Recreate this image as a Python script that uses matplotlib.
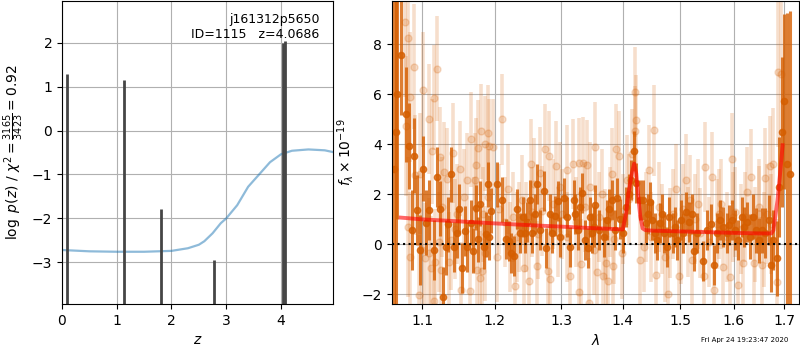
import matplotlib
matplotlib.use('Agg')
import numpy as np
import matplotlib.pyplot as plt
from matplotlib.ticker import NullLocator

# --- p(z) panel data ---
pz_z = [0.0, 0.5, 1.0, 1.5, 2.0, 2.3, 2.5, 2.6, 2.75, 2.9, 3.0, 3.2, 3.4,
        3.6, 3.8, 4.0, 4.2, 4.5, 4.8, 4.95]
pz_logp = [-2.72, -2.75, -2.76, -2.76, -2.74, -2.68, -2.60, -2.52, -2.34,
           -2.11, -2.00, -1.70, -1.28, -1.00, -0.72, -0.54, -0.46, -0.43,
           -0.45, -0.49]
peak_z = [0.092, 1.136, 1.808, 2.78, 4.04, 4.07]
peak_logp = [1.28, 1.16, -1.78, -2.95, 2.00, 2.04]
chi2_num, chi2_den, chi2_red = 3165, 3423, 0.92

# --- spectrum panel data (wavelength in microns, flux x 1e-19) ---
dark_wave = [1.0635, 1.0655, 1.0675, 1.0720, 1.0786, 1.0826, 1.0869, 1.0895, 1.0935,
             1.0966, 1.1014, 1.1047, 1.1088, 1.1162, 1.1193, 1.1235, 1.1272,
             1.1313, 1.1345, 1.1387, 1.1428, 1.1465, 1.1497, 1.1534, 1.1575,
             1.1608, 1.1659, 1.1690, 1.1732, 1.1760, 1.1797, 1.1848, 1.1880,
             1.1912, 1.1925, 1.1949, 1.2039, 1.2114, 1.2170, 1.2204, 1.2240,
             1.2279, 1.2330, 1.2369, 1.2410, 1.2444, 1.2480, 1.2520, 1.2550,
             1.2590, 1.2631, 1.2670, 1.2730, 1.2766, 1.2820, 1.2860, 1.2901,
             1.2946, 1.2980, 1.3044, 1.3097, 1.3141, 1.3195, 1.3222, 1.3260,
             1.3304, 1.3336, 1.3373, 1.3422, 1.3466, 1.3498, 1.3531, 1.3547,
             1.3601, 1.3682, 1.3737, 1.3774, 1.3818, 1.3872, 1.3909, 1.3953,
             1.4007, 1.4054, 1.4101, 1.4141, 1.4193, 1.4228, 1.4286, 1.4345,
             1.4390, 1.4425, 1.4472, 1.4507, 1.4559, 1.4589, 1.4634, 1.4676,
             1.4716, 1.4763, 1.4808, 1.4868, 1.4913, 1.4948, 1.5007, 1.5056,
             1.5106, 1.5156, 1.5212, 1.5250, 1.5305, 1.5410, 1.5492, 1.5566,
             1.5615, 1.5678, 1.5739, 1.5801, 1.5864, 1.5913, 1.5963, 1.6020,
             1.6085, 1.6153, 1.6199, 1.6252, 1.6304, 1.6372, 1.6423, 1.6483,
             1.6551, 1.6616, 1.6682, 1.6730, 1.6781, 1.6849, 1.6901, 1.6960,
             1.7000, 1.7060, 1.7127]
dark_flux = [3.00, 4.50, 6.00, 7.58, 5.19, 3.93, 0.57, 3.54, 1.39,
             -0.23, 3.03, 0.86, 1.39, -0.23, 2.68, 1.43, -2.10,
             -0.12, 0.81, 2.80, -0.12, 0.44, 1.43, -0.93, 0.54,
             -0.12, 0.86, -0.25, 1.47, 0.20, 1.62, -0.09, 0.40,
             2.40, 0.28, 1.35, 2.40, 1.79, 0.20, 0.14, -0.36,
             -0.47, 1.43, 0.44, 1.10, 0.44, 0.90, 1.79, 0.44,
             1.23, 2.40, 0.57, 2.12, -0.16, 1.23, 0.44, 1.13,
             1.73, 0.28, 1.87, 1.10, -0.09, 1.79, 1.23, 0.57,
             1.50, 2.06, 0.17, -0.16, 1.10, 0.44, 0.70, 1.57,
             0.57, 0.30, 0.97, 1.43, 1.76, 0.57, 1.87, 1.00,
             0.44, 1.50, 2.03, 2.56, 3.73, 2.45, 1.76, 1.76,
             0.86, 1.23, 1.70, 0.97, 0.44, 0.17, 0.84, 1.23,
             0.44, -0.09, 1.10, 0.44, 0.70, 0.17, 0.97, 0.44,
             1.30, 0.90, 1.23, -0.27, 0.44, -0.65, 0.57, 0.81,
             -0.82, 0.44, 0.97, 0.70, 0.44, 0.77, 0.97, 0.57,
             0.17, 1.10, 0.70, 0.90, 0.30, 1.10, 0.57, 0.17,
             0.57, 0.44, 0.97, -0.82, 0.17, -0.56, 2.30, 4.50,
             5.72, 3.23, 2.83]
dark_err = [9.0, 7.0, 5.0, 2.4, 1.9, 1.7, 1.6, 1.5, 1.4,
            1.4, 1.3, 1.3, 1.2, 1.2, 1.2, 1.1, 1.2,
            1.1, 1.1, 1.1, 1.0, 1.0, 1.0, 1.0, 1.0,
            1.0, 0.9, 0.9, 0.9, 0.9, 0.9, 0.9, 0.9,
            0.9, 0.9, 0.9, 0.9, 0.9, 0.8, 0.8, 0.8,
            0.8, 0.8, 0.8, 0.8, 0.8, 0.8, 0.8, 0.8,
            0.8, 0.8, 0.8, 0.8, 0.8, 0.8, 0.8, 0.8,
            0.8, 0.8, 0.8, 0.8, 0.8, 0.8, 0.8, 0.8,
            0.8, 0.8, 0.8, 0.8, 0.8, 0.8, 0.8, 0.8,
            0.8, 0.8, 0.8, 0.8, 0.8, 0.8, 0.8, 0.8,
            0.8, 0.8, 0.8, 0.8, 0.8, 0.8, 0.8, 0.8,
            0.8, 0.8, 0.8, 0.8, 0.8, 0.8, 0.8, 0.8,
            0.8, 0.8, 0.8, 0.8, 0.8, 0.8, 0.8, 0.8,
            0.8, 0.8, 0.8, 0.8, 0.8, 0.8, 0.8, 0.8,
            0.8, 0.8, 0.8, 0.8, 0.8, 0.8, 0.8, 0.8,
            0.8, 0.8, 0.8, 0.8, 0.9, 0.9, 0.9, 0.9,
            0.9, 1.0, 1.0, 1.1, 1.2, 1.5, 2.0, 3.0,
            3.5, 6.0, 6.5]

light_wave = [1.0773, 1.0786, 1.0809, 1.0817, 1.0839, 1.0845, 1.0895, 1.0904,
              1.0961, 1.0970, 1.0992, 1.1006, 1.1037, 1.1083, 1.1090, 1.1120,
              1.1130, 1.1152, 1.1160, 1.1175, 1.1199, 1.1221, 1.1244, 1.1250,
              1.1270, 1.1290, 1.1337, 1.1359, 1.1383, 1.1414, 1.1440, 1.1475,
              1.1507, 1.1521, 1.1560, 1.1613, 1.1649, 1.1659, 1.1700, 1.1714,
              1.1732, 1.1751, 1.1760, 1.1787, 1.1807, 1.1815, 1.1830, 1.1856,
              1.1866, 1.1898, 1.1905, 1.1925, 1.1972, 1.2039, 1.2070, 1.2105,
              1.2150, 1.2190, 1.2230, 1.2270, 1.2294, 1.2330, 1.2354, 1.2405,
              1.2429, 1.2460, 1.2505, 1.2530, 1.2555, 1.2580, 1.2620, 1.2650,
              1.2670, 1.2706, 1.2745, 1.2790, 1.2805, 1.2820, 1.2870, 1.2920,
              1.2950, 1.2980, 1.3020, 1.3088, 1.3095, 1.3141, 1.3179, 1.3230,
              1.3276, 1.3285, 1.3315, 1.3347, 1.3370, 1.3412, 1.3438, 1.3466,
              1.3531, 1.3547, 1.3575, 1.3600, 1.3650, 1.3672, 1.3700, 1.3721,
              1.3747, 1.3780, 1.3818, 1.3828, 1.3860, 1.3888, 1.3942, 1.3981,
              1.4010, 1.4066, 1.4100, 1.4153, 1.4199, 1.4210, 1.4228, 1.4298,
              1.4355, 1.4400, 1.4443, 1.4490, 1.4542, 1.4577, 1.4620, 1.4680,
              1.4733, 1.4780, 1.4821, 1.4870, 1.4925, 1.4972, 1.5020, 1.5060,
              1.5106, 1.5150, 1.5181, 1.5212, 1.5270, 1.5330, 1.5367, 1.5428,
              1.5460, 1.5520, 1.5585, 1.5615, 1.5680, 1.5726, 1.5760, 1.5801,
              1.5860, 1.5926, 1.5957, 1.5987, 1.6030, 1.6085, 1.6130, 1.6185,
              1.6220, 1.6252, 1.6332, 1.6384, 1.6420, 1.6483, 1.6500, 1.6551,
              1.6590, 1.6616, 1.6650, 1.6702, 1.6740, 1.6781, 1.6849, 1.6881,
              1.6929]
light_flux = [8.87, 4.73, 0.70, 8.25, 5.88, -0.49, 7.10, 2.76,
              -2.02, 2.83, -0.23, 6.18, -0.56, 5.02, -0.36, -0.96,
              3.72, 5.86, -2.26, -0.69, 7.01, 0.10, 3.49, -1.02,
              1.50, 2.89, 2.63, -0.69, 0.17, 3.66, 0.60, 1.23,
              3.03, -1.82, 1.90, 2.56, -1.85, 4.20, 0.80, 2.56,
              3.16, -1.02, 3.86, -1.35, 4.51, -1.05, 1.20, 4.02,
              -0.36, 4.46, 1.90, 3.92, 3.89, -0.49, 1.40, 4.99,
              0.90, 2.20, -0.10, 1.10, -1.66, 0.30, 0.70, 1.76,
              -0.93, 0.70, -1.46, 3.20, 1.30, 2.43, -0.86, 0.40,
              2.87, 1.34, 3.80, -1.05, 3.52, -1.39, 1.60, 3.12,
              0.50, 2.30, 1.20, 2.96, 0.30, -1.25, 3.20, 0.90,
              3.25, -1.90, -0.80, 3.27, 1.50, 3.16, -2.33, 2.30,
              -0.23, 3.89, -1.09, 1.10, 2.00, -1.26, 0.40, -0.76,
              -1.46, 1.30, 2.83, -0.85, 0.20, 3.80, 3.52, -0.36,
              1.00, 2.56, 1.80, 3.60, 6.08, 4.51, 4.98, -0.63,
              -0.10, 1.10, 2.96, 0.30, 4.55, -1.24, 1.50, 0.60,
              -0.49, -1.98, 0.44, 1.20, 2.20, -1.26, 0.20, 1.40,
              2.59, 0.50, 1.76, -0.63, 1.00, 1.60, 0.44, -1.26,
              3.09, 0.10, 2.69, -1.82, 0.80, 1.23, 1.60, -0.89,
              0.30, -1.29, 3.43, 1.10, 1.30, -1.62, 0.60, -0.76,
              1.10, 2.10, 2.69, -0.76, 0.40, 1.23, 1.50, -0.82,
              0.20, 2.65, 1.20, 3.13, 0.80, 3.23, -1.49, 6.90,
              6.81]
light_err = [3.0, 2.8, 2.8, 3.0, 2.6, 2.6, 2.5, 2.4,
             2.4, 2.4, 2.3, 2.3, 2.2, 2.2, 2.2, 2.1,
             2.1, 2.1, 2.1, 2.1, 2.1, 2.0, 2.0, 2.0,
             2.0, 2.0, 2.0, 2.0, 2.0, 2.0, 2.0, 2.0,
             1.9, 1.9, 1.9, 1.9, 1.9, 1.9, 1.9, 1.9,
             1.9, 1.9, 1.9, 1.9, 1.9, 1.9, 1.9, 1.9,
             1.9, 1.9, 1.9, 1.9, 1.9, 1.8, 1.8, 1.8,
             1.8, 1.8, 1.8, 1.8, 1.8, 1.8, 1.8, 1.8,
             1.8, 1.8, 1.8, 1.8, 1.8, 1.8, 1.8, 1.8,
             1.8, 1.8, 1.8, 1.8, 1.8, 1.8, 1.8, 1.8,
             1.8, 1.8, 1.8, 1.8, 1.8, 1.8, 1.8, 1.8,
             1.8, 1.8, 1.8, 1.8, 1.8, 1.8, 1.8, 1.8,
             1.8, 1.8, 1.8, 1.8, 1.8, 1.8, 1.8, 1.8,
             1.8, 1.8, 1.8, 1.8, 1.8, 1.8, 1.8, 1.8,
             1.8, 1.8, 1.8, 1.8, 1.8, 1.8, 1.8, 1.8,
             1.8, 1.8, 1.8, 1.8, 1.8, 1.8, 1.8, 1.8,
             1.8, 1.8, 1.8, 1.8, 1.8, 1.8, 1.8, 1.8,
             1.8, 1.8, 1.8, 1.8, 1.8, 1.8, 1.8, 1.8,
             1.8, 1.8, 1.8, 1.8, 1.8, 1.8, 1.8, 1.8,
             1.8, 1.8, 1.8, 1.8, 1.8, 1.8, 1.8, 1.8,
             1.8, 1.8, 1.9, 1.9, 1.9, 1.9, 1.9, 1.9,
             1.9, 2.0, 2.0, 2.0, 2.0, 2.2, 2.5, 3.0,
             3.5]

model_wave = [1.072, 1.10, 1.15, 1.20, 1.25, 1.30, 1.35, 1.40, 1.4054, 1.4094,
              1.4153, 1.4193, 1.4228, 1.4258, 1.4298, 1.4338, 1.4385, 1.45,
              1.50, 1.55, 1.60, 1.65, 1.674, 1.678, 1.6862, 1.6915, 1.6966]
model_flux = [1.07, 1.00, 0.92, 0.84, 0.77, 0.71, 0.65, 0.60, 1.23, 2.03,
              2.83, 3.23, 2.83, 2.03, 1.10, 0.64, 0.57, 0.55, 0.52, 0.49,
              0.46, 0.44, 0.44, 0.57, 1.76, 2.83, 3.96]

wave_ticks = [1.1, 1.2, 1.3, 1.4, 1.5, 1.6, 1.7]
grism_color = '#d55e00'

fig = plt.figure(figsize=(8, 3.5), dpi=100)

# left: log p(z)
ax = fig.add_axes([0.0775, 0.1314, 0.33875, 0.8657])
ax.plot(pz_z, pz_logp, color='#1f77b4', alpha=0.5, lw=1.6)
ymin = -3.95
ax.vlines(peak_z, ymin, peak_logp, color='0.27', lw=2.0)
ax.set_xlim(0, 4.95)
ax.set_ylim(ymin, 2.95)
ax.set_xticks([0, 1, 2, 3, 4])
ax.set_yticks([-3, -2, -1, 0, 1, 2])
ax.grid()
ax.set_xlabel(r'$z$')
ax.set_ylabel(r'$\log\ p(z)$' + ' / ' +
              r'$\chi^2=\frac{%d}{%d}=%.2f$' % (chi2_num, chi2_den, chi2_red))
ax.text(0.95, 0.96, 'j161312p5650\nID=1115   z=4.0686', ha='right', va='top',
        transform=ax.transAxes, fontsize=9)

# right: spectrum
ax2 = fig.add_axes([0.4896, 0.1314, 0.5091, 0.8657])
ax2.errorbar(light_wave, light_flux, yerr=light_err, fmt='o', color=grism_color,
             alpha=0.2, ms=5, elinewidth=2.6, capsize=0, zorder=1)
ax2.errorbar(dark_wave, dark_flux, yerr=dark_err, fmt='o', color=grism_color,
             alpha=0.8, ms=4.5, elinewidth=2.2, capsize=0, zorder=2)
ax2.plot(model_wave, model_flux, color='r', alpha=0.6, lw=2.8, zorder=3)
ax2.axhline(0, color='k', linestyle=':', lw=1.5, zorder=4)
ax2.set_xscale('log')
ax2.set_xlim(1.0603, 1.7303)
ax2.set_ylim(-2.38, 9.72)
ax2.set_xticks(wave_ticks)
ax2.set_xticklabels(['%.1f' % w for w in wave_ticks])
ax2.xaxis.set_minor_locator(NullLocator())
ax2.set_yticks([-2, 0, 2, 4, 6, 8])
ax2.grid()
ax2.set_axisbelow(True)
ax2.set_xlabel(r'$\lambda$')
ax2.set_ylabel(r'$f_\lambda\times10^{-19}$')

fig.text(0.985, 0.02, 'Fri Apr 24 19:23:47 2020', ha='right', va='bottom',
         fontsize=5)

fig.savefig('out.png', dpi=100)
